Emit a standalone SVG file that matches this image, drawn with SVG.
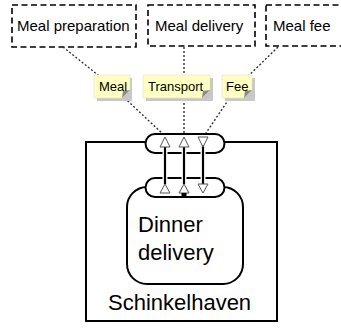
<svg xmlns="http://www.w3.org/2000/svg" width="341" height="333" viewBox="0 0 341 333">
<style>
text{font-family:"Liberation Sans",Arial,sans-serif;fill:#000}
.ext{fill:#fff;stroke:#000;stroke-width:1.6;stroke-dasharray:6,3.5}
.lbl{font-size:15px}
.dot{fill:none;stroke:#333;stroke-width:1.4;stroke-dasharray:2,2}
.note{fill:#ffffc4;stroke:#e0e0c0;stroke-width:0.6}
.shadow{fill:#c8c8c8}
.fold{fill:#8a8a8a}
.ntxt{font-size:13px}
.box{fill:#fff;stroke:#000;stroke-width:2}
.pill{fill:#fff;stroke:#000;stroke-width:2}
.halo{stroke:#fff;stroke-width:5;fill:none}
.flow{stroke:#000;stroke-width:2.2;fill:none}
.tri{fill:#fff;stroke:#555;stroke-width:1}
</style>
<g id="meal-preparation"><rect class="ext" x="12" y="5" width="124" height="42"/><text class="lbl" x="17" y="31">Meal preparation</text></g>
<g id="meal-delivery"><rect class="ext" x="148" y="5" width="107" height="41"/><text class="lbl" x="155" y="31">Meal delivery</text></g>
<g id="meal-fee"><rect class="ext" x="266" y="5" width="100" height="41"/><text class="lbl" x="273" y="31">Meal fee</text></g>
<g id="schinkelhaven"><rect class="box" x="86" y="142" width="191" height="179"/><text x="108" y="310" style="font-size:22px">Schinkelhaven</text></g>
<g id="dinner-delivery"><rect class="box" x="127" y="187" width="116" height="97" rx="20"/><text x="138" y="232" style="font-size:22px">Dinner</text><text x="138" y="260" style="font-size:22px">delivery</text></g>
<g id="connectors">
<polyline class="dot" points="63,47 113,87 165,136"/>
<polyline class="dot" points="184,47 184,136"/>
<polyline class="dot" points="278,47 237,87 204,136"/>
</g>
<g id="ports">
<path class="pill" d="M155,134 H215 A9.5,9.5 0 0 1 215,153 H155 A9.5,9.5 0 0 1 155,134 Z"/>
<path class="pill" d="M155,178 H215 A9.5,9.5 0 0 1 215,197 H155 A9.5,9.5 0 0 1 155,178 Z"/>
<g id="flows">
<line class="halo" x1="165" y1="147" x2="165" y2="184"/><line class="flow" x1="165" y1="147" x2="165" y2="184"/>
<line class="halo" x1="184" y1="147" x2="184" y2="184"/><line class="flow" x1="184" y1="147" x2="184" y2="184"/>
<line class="halo" x1="203" y1="137" x2="203" y2="184"/><line class="flow" x1="203" y1="140" x2="203" y2="186"/>
<polygon class="tri" points="165,137 170,147 160,147"/>
<polygon class="tri" points="165,184 170,193 160,193"/>
<polygon class="tri" points="184,137 189,147 179,147"/>
<polygon class="tri" points="184,184 189,193 179,193"/>
<rect x="181.5" y="193" width="5" height="5" fill="#000"/>
<polygon class="tri" points="198,137 208,137 203,147"/>
<polygon class="tri" points="198,184 208,184 203,193"/>
</g>
</g>
<g id="note-meal">
<rect class="shadow" x="97" y="78" width="35" height="23"/>
<path class="note" d="M94,75 H130 V90 L122,98 H94 Z"/><path class="fold" d="M130,90 L122,98 L123,91 Z"/>
<text class="ntxt" x="99" y="91">Meal</text></g>
<g id="note-transport">
<rect class="shadow" x="146" y="78" width="67" height="23"/>
<path class="note" d="M143,75 H210 V90 L202,98 H143 Z"/><path class="fold" d="M210,90 L202,98 L203,91 Z"/>
<text class="ntxt" x="148" y="91">Transport</text></g>
<g id="note-fee">
<rect class="shadow" x="225" y="78" width="30" height="23"/>
<path class="note" d="M222,75 H252 V90 L244,98 H222 Z"/><path class="fold" d="M252,90 L244,98 L245,91 Z"/>
<text class="ntxt" x="226" y="91">Fee</text></g>
</svg>
